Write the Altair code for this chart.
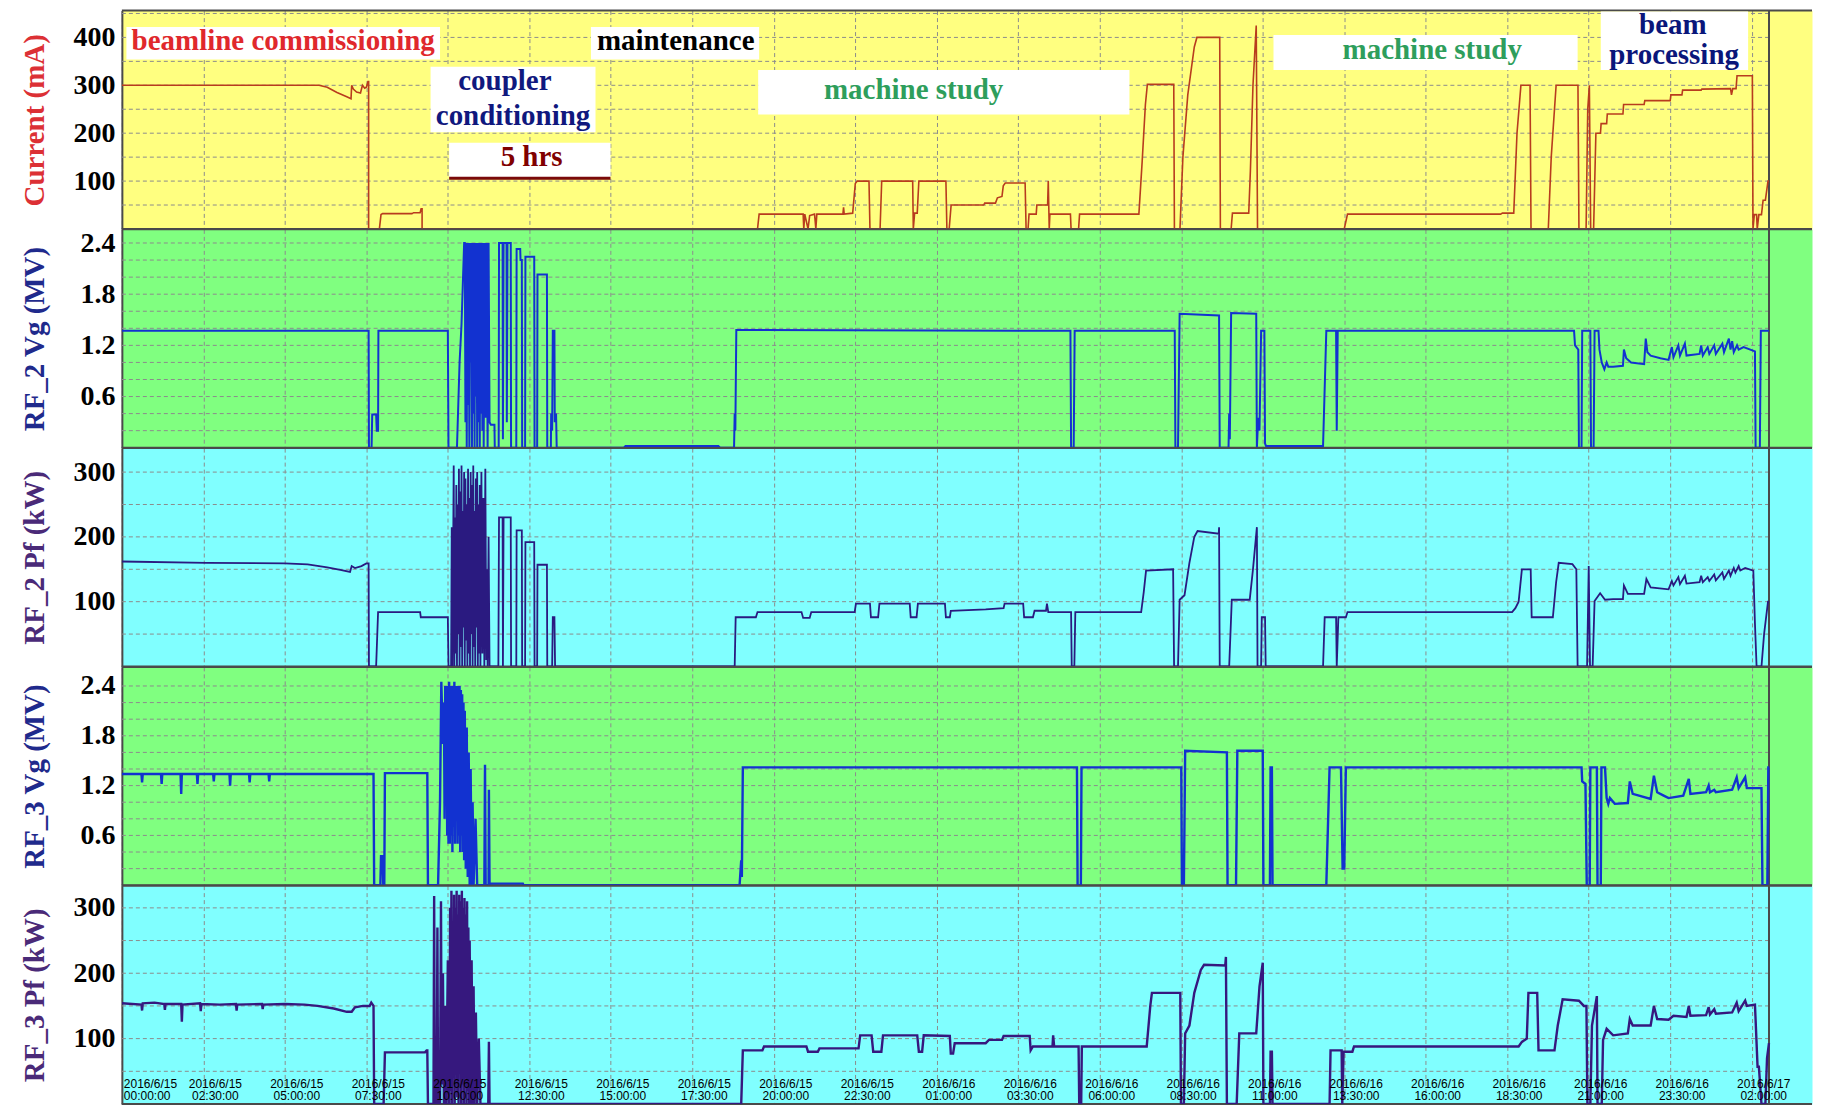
import altair as alt
import pandas as pd

# ---------------- layout constants ----------------
W = 1692          # panel width (px)
H = 218.6         # panel height (px)
X_END = 50.53     # right border of the recorded window (hours after 2016/6/15 00:00)
X_MAX = 51.85     # coloured background continues a bit beyond the border

# ---------------- time axis ----------------
tick_hours = [0, 2.5, 5, 7.5, 10, 12.5, 15, 17.5, 20, 22.5, 25, 27.5, 30, 32.5, 35,
              37.5, 40, 42.5, 45, 47.5, 50]
tick_dates = ["2016/6/15"] * 10 + ["2016/6/16"] * 10 + ["2016/6/17"]
tick_times = ["00:00:00", "02:30:00", "05:00:00", "07:30:00", "10:00:00", "12:30:00",
              "15:00:00", "17:30:00", "20:00:00", "22:30:00", "01:00:00", "03:30:00",
              "06:00:00", "08:30:00", "11:00:00", "13:30:00", "16:00:00", "18:30:00",
              "21:00:00", "23:30:00", "02:00:00"]

# ---------------- y grids / labels ----------------
cur_grid = [50, 100, 150, 200, 250, 300, 350, 400, 450]
cur_labels = [100, 200, 300, 400]
vg_grid = [0.2, 0.4, 0.6, 0.8, 1.0, 1.2, 1.4, 1.6, 1.8, 2.0, 2.2, 2.4]
vg_labels = [0.6, 1.2, 1.8, 2.4]
pf_grid = [50, 100, 150, 200, 250, 300]
pf_labels = [100, 200, 300]

# ---------------- series (hours, value) ----------------
current_mA = [
    (0, 300), (6.05, 300), (6.3, 296), (6.6, 285), (6.9, 276), (7.03, 272), (7.05, 300),
    (7.1, 292), (7.2, 286), (7.32, 284), (7.38, 300), (7.45, 294), (7.5, 296), (7.55, 308),
    (7.57, 308), (7.57, 0), (7.9, 0), (7.95, 30), (8.0, 32), (8.9, 32), (8.95, 34), (9.15, 34),
    (9.18, 42), (9.21, 42), (9.21, 0), (19.5, 0), (19.55, 31), (20.9, 31), (20.92, 0),
    (20.95, 31), (21.05, 0), (21.1, 28), (21.25, 31), (21.29, 0), (21.32, 31), (22.12, 31),
    (22.14, 45), (22.16, 31), (22.42, 33), (22.5, 95), (22.56, 100), (22.92, 100), (22.95, 0),
    (23.26, 0), (23.31, 100), (24.26, 100), (24.28, 0), (24.32, 33), (24.4, 33), (24.45, 100),
    (25.28, 100), (25.31, 0), (25.38, 0), (25.44, 50), (26.44, 50), (26.47, 54), (26.8, 54),
    (26.86, 65), (27.0, 68), (27.04, 90), (27.1, 96), (27.71, 96), (27.74, 0), (27.8, 0),
    (27.83, 31), (28.05, 31), (28.07, 50), (28.4, 50), (28.42, 100), (28.45, 0), (28.47, 31),
    (29.1, 31), (29.12, 0), (29.35, 0), (29.38, 31), (31.2, 31), (31.3, 140), (31.4, 260),
    (31.46, 302), (32.27, 302), (32.29, 0), (32.46, 0), (32.55, 150), (32.7, 280), (32.8, 330),
    (32.9, 380), (32.98, 400), (33.68, 400), (33.7, 0), (34.03, 0), (34.07, 33), (34.57, 33),
    (34.62, 120), (34.7, 300), (34.8, 425), (34.84, 0), (37.5, 0), (37.6, 31), (42.3, 31),
    (42.35, 33), (42.7, 33), (42.8, 200), (42.92, 300), (43.2, 300), (43.23, 0), (43.76, 0),
    (43.85, 150), (44.0, 300), (44.67, 300), (44.7, 0), (44.92, 0), (44.97, 250), (45.02, 300),
    (45.06, 0), (45.15, 0), (45.22, 200), (45.36, 200), (45.38, 220), (45.55, 220), (45.57, 240),
    (46.05, 240), (46.07, 260), (46.7, 260), (46.72, 268), (47.5, 268), (47.52, 280),
    (47.86, 280), (47.88, 290), (48.45, 290), (48.47, 292), (49.35, 293), (49.38, 280),
    (49.42, 293), (49.52, 293), (49.55, 320), (50.02, 320), (50.04, 0), (50.08, 30),
    (50.15, 30), (50.17, 0), (50.22, 30), (50.3, 30), (50.35, 60), (50.42, 60), (50.5, 100),
    (50.53, 100)]

rf2_vg_MV = [
    (0, 1.37), (7.57, 1.37), (7.58, 0), (7.66, 0), (7.68, 0.39), (7.8, 0.39), (7.82, 0.2),
    (7.86, 0.2), (7.87, 1.37), (10.0, 1.37), (10.02, 0), (10.28, 0), (10.36, 1.0), (10.42, 1.45),
    (10.5, 2.4), (10.52, 2.4), (10.54, 0.3), (10.56, 2.4), (10.58, 0.0), (10.6, 2.4), (10.62, 0.5),
    (10.64, 2.4), (10.66, 0.0), (10.68, 2.4), (10.7, 1.0), (10.72, 2.4), (10.74, 0.0), (10.76, 2.4),
    (10.78, 0.4), (10.8, 2.4), (10.82, 0.0), (10.84, 2.4), (10.86, 0.6), (10.88, 2.4), (10.9, 0.0),
    (10.92, 2.4), (10.94, 0.3), (10.96, 2.4), (10.98, 0.0), (11.0, 2.4), (11.02, 0.4), (11.04, 2.4),
    (11.06, 0.2), (11.08, 2.4), (11.1, 0.0), (11.13, 2.4), (11.16, 0.35), (11.19, 2.4), (11.22, 0.0),
    (11.25, 2.4), (11.28, 0.3), (11.32, 0.27), (11.43, 0.27), (11.44, 0), (11.56, 0), (11.57, 2.4),
    (11.68, 2.4), (11.69, 0.1), (11.71, 2.4), (11.8, 2.4), (11.81, 0.3), (11.83, 2.4), (11.93, 2.4),
    (11.94, 0), (12.1, 0), (12.11, 2.33), (12.22, 2.33), (12.23, 2.2), (12.27, 2.2), (12.28, 0),
    (12.37, 0), (12.38, 2.24), (12.65, 2.24), (12.66, 0), (12.74, 0), (12.75, 2.03), (13.04, 2.03),
    (13.05, 0), (13.16, 0), (13.17, 0.4), (13.2, 0.2), (13.22, 1.37), (13.27, 1.37), (13.28, 0.3),
    (13.32, 0.4), (13.34, 0), (15.4, 0), (15.45, 0.02), (18.3, 0.02), (18.35, 0), (18.78, 0),
    (18.8, 0.4), (18.82, 0.2), (18.85, 1.38), (29.1, 1.37), (29.12, 0), (29.2, 0), (29.23, 1.37),
    (32.3, 1.37), (32.32, 0), (32.4, 0), (32.45, 1.57), (33.66, 1.55), (33.68, 0), (33.95, 0),
    (33.97, 0.4), (33.99, 0.1), (34.03, 1.58), (34.8, 1.57), (34.82, 0), (34.86, 0.35), (34.9, 0.2),
    (34.95, 1.37), (35.05, 1.37), (35.07, 0.05), (35.1, 0.02), (36.85, 0.02), (36.95, 1.37),
    (37.25, 1.37), (37.27, 0.2), (37.3, 1.37), (44.55, 1.37), (44.58, 1.2), (44.68, 1.15),
    (44.7, 0), (44.78, 0), (44.8, 1.37), (45.05, 1.37), (45.07, 0), (45.15, 0), (45.18, 1.37),
    (45.3, 1.37), (45.33, 1.15), (45.4, 1.0), (45.48, 0.92), (45.55, 1.0), (45.6, 0.95),
    (45.75, 0.95), (46.05, 0.96), (46.08, 1.15), (46.15, 1.05), (46.3, 1.0), (46.7, 0.98),
    (46.75, 1.28), (46.8, 1.12), (46.9, 1.08), (47.2, 1.05), (47.45, 1.03), (47.55, 1.18),
    (47.6, 1.06), (47.75, 1.2), (47.8, 1.08), (47.95, 1.22), (48.0, 1.08), (48.4, 1.1),
    (48.45, 1.2), (48.5, 1.08), (48.65, 1.18), (48.7, 1.1), (48.85, 1.2), (48.9, 1.1),
    (49.1, 1.22), (49.15, 1.12), (49.3, 1.28), (49.35, 1.15), (49.4, 1.25), (49.45, 1.12),
    (49.55, 1.2), (49.6, 1.15), (49.75, 1.18), (50.1, 1.13), (50.12, 0), (50.25, 0),
    (50.28, 1.37), (50.53, 1.37)]

rf2_pf_kW = [
    (0, 162), (2.6, 160), (5.0, 159), (5.7, 157.5), (6.3, 153), (6.7, 149), (7.0, 146),
    (7.05, 155), (7.15, 152), (7.35, 155), (7.5, 159), (7.57, 159), (7.58, 0), (7.8, 0),
    (7.86, 84), (9.15, 84), (9.17, 76), (10.0, 76), (10.02, 0), (10.1, 0), (10.12, 215),
    (10.14, 0), (10.18, 310), (10.2, 0), (10.22, 230), (10.24, 20), (10.26, 280), (10.28, 0),
    (10.3, 250), (10.32, 50), (10.34, 305), (10.36, 0), (10.38, 270), (10.4, 30), (10.42, 310),
    (10.44, 0), (10.46, 240), (10.48, 60), (10.5, 300), (10.52, 0), (10.54, 290), (10.56, 40),
    (10.58, 250), (10.6, 0), (10.62, 305), (10.64, 20), (10.66, 260), (10.68, 0), (10.7, 300),
    (10.72, 50), (10.74, 280), (10.76, 0), (10.78, 310), (10.8, 30), (10.82, 240), (10.84, 0),
    (10.86, 290), (10.88, 60), (10.9, 300), (10.92, 0), (10.94, 250), (10.96, 20), (10.98, 280),
    (11.0, 0), (11.03, 300), (11.06, 20), (11.09, 260), (11.12, 0), (11.15, 305), (11.18, 10),
    (11.2, 150), (11.22, 0), (11.25, 200), (11.28, 0), (11.55, 0), (11.57, 230), (11.68, 230),
    (11.69, 0), (11.71, 230), (11.93, 230), (11.94, 0), (12.1, 0), (12.11, 210), (12.27, 210),
    (12.28, 0), (12.37, 0), (12.38, 192), (12.65, 192), (12.66, 0), (12.74, 0), (12.75, 157),
    (13.04, 157), (13.05, 0), (13.2, 0), (13.22, 76), (13.27, 76), (13.29, 0), (18.8, 0),
    (18.83, 76), (19.45, 76), (19.5, 84), (20.85, 84), (20.9, 75), (21.1, 75), (21.15, 84),
    (22.48, 84), (22.52, 97), (22.95, 97), (22.98, 76), (23.2, 76), (23.24, 97), (24.17, 97),
    (24.2, 76), (24.38, 76), (24.42, 97), (25.25, 97), (25.28, 76), (25.4, 76), (25.43, 86),
    (26.5, 88), (27.05, 90), (27.08, 97), (27.65, 97), (27.68, 76), (27.95, 76), (28.0, 86),
    (28.35, 86), (28.38, 97), (28.42, 84), (29.12, 84), (29.14, 0), (29.22, 0), (29.25, 84),
    (31.27, 84), (31.35, 115), (31.42, 148), (32.25, 150), (32.28, 0), (32.4, 0), (32.45, 103),
    (32.6, 110), (32.75, 160), (32.9, 200), (33.0, 209), (33.65, 205), (33.66, 215), (33.68, 0),
    (33.97, 0), (34.05, 103), (34.6, 103), (34.7, 150), (34.82, 215), (34.84, 0), (34.95, 0),
    (34.97, 76), (35.07, 76), (35.09, 0), (36.85, 0), (36.9, 76), (37.25, 76), (37.27, 0),
    (37.32, 76), (37.55, 76), (37.6, 84), (42.65, 84), (42.75, 90), (42.85, 100), (42.95, 150),
    (43.22, 150), (43.25, 76), (43.9, 76), (44.0, 130), (44.08, 160), (44.5, 158), (44.62, 150),
    (44.66, 0), (44.95, 0), (45.0, 155), (45.04, 0), (45.12, 0), (45.18, 101), (45.35, 113),
    (45.5, 103), (45.75, 104), (46.05, 104), (46.08, 125), (46.2, 112), (46.7, 112),
    (46.77, 135), (46.9, 122), (47.45, 119), (47.55, 132), (47.6, 125), (47.75, 138),
    (47.8, 127), (47.95, 140), (48.0, 128), (48.4, 130), (48.45, 140), (48.5, 130),
    (48.65, 138), (48.7, 132), (48.85, 142), (48.9, 133), (49.1, 145), (49.15, 135),
    (49.3, 148), (49.35, 140), (49.45, 152), (49.5, 145), (49.6, 155), (49.65, 148),
    (49.8, 152), (50.05, 148), (50.1, 66), (50.15, 0), (50.3, 0), (50.38, 50), (50.5, 100),
    (50.53, 100)]

rf3_vg_MV = [
    (0, 1.34), (0.6, 1.34), (0.62, 1.24), (0.64, 1.34), (1.2, 1.34), (1.22, 1.22), (1.24, 1.34),
    (1.8, 1.34), (1.82, 1.1), (1.84, 1.34), (2.3, 1.34), (2.32, 1.22), (2.34, 1.34), (2.8, 1.34),
    (2.82, 1.25), (2.84, 1.34), (3.3, 1.34), (3.32, 1.2), (3.34, 1.34), (3.9, 1.34), (3.92, 1.24),
    (3.94, 1.34), (4.5, 1.34), (4.52, 1.25), (4.54, 1.34), (7.72, 1.34), (7.74, 0), (7.93, 0),
    (7.95, 0.35), (8.0, 0.35), (8.02, 0), (8.05, 0), (8.07, 1.35), (9.37, 1.35), (9.39, 0),
    (9.7, 0), (9.76, 1.0), (9.8, 2.45), (9.85, 1.7), (9.88, 2.2), (9.9, 0.8), (9.92, 2.4),
    (9.94, 1.0), (9.96, 2.4), (9.98, 0.6), (10.0, 2.4), (10.02, 0.5), (10.04, 2.45), (10.06, 0.5),
    (10.08, 2.4), (10.1, 0.6), (10.12, 2.4), (10.14, 0.4), (10.16, 2.4), (10.18, 0.7),
    (10.2, 2.45), (10.22, 0.5), (10.24, 2.4), (10.26, 0.8), (10.28, 2.4), (10.3, 0.5),
    (10.32, 2.4), (10.34, 0.6), (10.36, 2.4), (10.38, 0.4), (10.4, 2.35), (10.42, 0.6),
    (10.44, 2.3), (10.46, 0.4), (10.48, 2.2), (10.5, 0.3), (10.52, 2.1), (10.55, 0.2),
    (10.58, 1.9), (10.61, 0.1), (10.64, 1.6), (10.67, 0), (10.7, 1.4), (10.73, 0), (10.76, 1.0),
    (10.79, 0), (10.85, 0.8), (10.9, 0), (11.12, 0), (11.14, 1.45), (11.16, 0), (11.25, 0),
    (11.26, 1.15), (11.28, 0), (11.3, 0.02), (12.3, 0.02), (12.32, 0), (18.95, 0), (19.0, 0.3),
    (19.02, 0.1), (19.05, 1.42), (29.3, 1.42), (29.32, 0), (29.42, 0), (29.44, 1.42),
    (32.5, 1.42), (32.52, 0), (32.58, 0), (32.62, 1.62), (33.9, 1.6), (33.92, 0), (34.18, 0),
    (34.22, 1.62), (35.0, 1.62), (35.02, 0), (35.22, 0), (35.24, 1.42), (35.28, 1.42), (35.3, 0),
    (36.95, 0), (37.05, 1.42), (37.4, 1.42), (37.45, 0.2), (37.5, 0.2), (37.55, 1.42),
    (44.78, 1.42), (44.8, 1.25), (44.9, 1.22), (44.94, 0), (45.03, 0), (45.05, 1.42),
    (45.25, 1.42), (45.27, 0), (45.37, 0), (45.39, 1.42), (45.5, 1.42), (45.55, 1.05),
    (45.6, 0.98), (45.65, 1.05), (45.8, 0.98), (46.2, 0.99), (46.26, 1.25), (46.35, 1.1),
    (46.9, 1.04), (47.0, 1.32), (47.1, 1.12), (47.3, 1.08), (47.45, 1.05), (47.9, 1.08),
    (48.07, 1.28), (48.12, 1.1), (48.6, 1.12), (48.68, 1.2), (48.72, 1.12), (48.85, 1.15),
    (48.9, 1.12), (49.4, 1.15), (49.54, 1.3), (49.6, 1.17), (49.8, 1.3), (49.85, 1.17),
    (50.3, 1.17), (50.33, 0), (50.48, 0), (50.51, 1.42), (50.53, 1.42)]

rf3_pf_kW = [
    (0, 154), (0.6, 152), (0.62, 143), (0.64, 154), (1.0, 155), (1.3, 153), (1.32, 144),
    (1.34, 153), (1.82, 153), (1.84, 126), (1.86, 152), (2.4, 154), (2.42, 142), (2.44, 153),
    (3.0, 152), (3.5, 153), (3.52, 143), (3.54, 152), (4.3, 153), (4.32, 145), (4.34, 152),
    (5.0, 153), (5.6, 152), (6.0, 150), (6.5, 146), (6.9, 141), (7.05, 141), (7.15, 148),
    (7.4, 150), (7.6, 150), (7.65, 155), (7.72, 150), (7.74, 0), (8.03, 0), (8.07, 79),
    (9.3, 79), (9.35, 82), (9.37, 82), (9.39, 0), (9.56, 0), (9.58, 318), (9.6, 0), (9.66, 0),
    (9.68, 270), (9.7, 0), (9.76, 0), (9.79, 310), (9.81, 30), (9.85, 200), (9.88, 0),
    (9.92, 150), (9.95, 0), (10.0, 220), (10.03, 0), (10.05, 0), (10.07, 300), (10.09, 20),
    (10.11, 326), (10.13, 0), (10.15, 280), (10.17, 40), (10.19, 320), (10.21, 0), (10.23, 300),
    (10.25, 60), (10.27, 326), (10.29, 10), (10.31, 290), (10.33, 0), (10.35, 320), (10.37, 50),
    (10.39, 310), (10.41, 0), (10.43, 326), (10.45, 30), (10.47, 300), (10.49, 0), (10.51, 315),
    (10.53, 40), (10.55, 290), (10.57, 0), (10.59, 310), (10.61, 20), (10.63, 270), (10.65, 0),
    (10.67, 250), (10.7, 0), (10.73, 220), (10.76, 0), (10.79, 180), (10.82, 0), (10.86, 140),
    (10.9, 0), (10.95, 100), (11.0, 0), (11.24, 0), (11.26, 95), (11.28, 0), (19.0, 0),
    (19.05, 82), (19.65, 82), (19.7, 88), (21.0, 88), (21.05, 80), (21.35, 80), (21.4, 85),
    (22.6, 85), (22.65, 105), (23.0, 105), (23.05, 80), (23.3, 80), (23.35, 105), (24.4, 105),
    (24.45, 80), (24.55, 80), (24.6, 105), (25.4, 104), (25.43, 77), (25.5, 77), (25.55, 93),
    (26.5, 93), (26.6, 98), (27.0, 98), (27.05, 104), (27.85, 104), (27.88, 82), (27.95, 88),
    (28.55, 88), (28.57, 105), (28.6, 88), (29.35, 88), (29.37, 0), (29.43, 0), (29.45, 88),
    (31.44, 88), (31.55, 150), (31.6, 170), (32.47, 170), (32.49, 0), (32.58, 0), (32.62, 108),
    (32.75, 120), (32.9, 170), (33.1, 205), (33.2, 213), (33.85, 212), (33.87, 225), (33.9, 0),
    (34.2, 0), (34.28, 108), (34.8, 108), (34.9, 180), (35.0, 216), (35.02, 0), (35.22, 0),
    (35.24, 80), (35.28, 80), (35.3, 0), (37.05, 0), (37.08, 82), (37.42, 82), (37.44, 0),
    (37.48, 80), (37.75, 80), (37.8, 88), (42.85, 88), (42.95, 95), (43.1, 100), (43.15, 170),
    (43.42, 170), (43.46, 82), (43.95, 82), (44.05, 120), (44.2, 160), (44.7, 158),
    (44.85, 150), (44.93, 150), (44.96, 0), (45.05, 0), (45.1, 120), (45.25, 165), (45.27, 0),
    (45.4, 0), (45.44, 98), (45.55, 115), (45.75, 105), (46.2, 108), (46.26, 130), (46.35, 120),
    (46.9, 120), (47.0, 150), (47.1, 130), (47.45, 129), (47.6, 135), (48.0, 133), (48.07, 150),
    (48.12, 135), (48.6, 136), (48.68, 148), (48.72, 137), (48.85, 145), (48.9, 138),
    (49.4, 140), (49.54, 155), (49.6, 142), (49.8, 158), (49.85, 150), (50.1, 152),
    (50.18, 57), (50.22, 57), (50.3, 0), (50.42, 0), (50.47, 70), (50.53, 93)]

# ---------------- annotations of the top panel (hours, mA) ----------------
box_x1 = [0.14, 9.47, 10.04, 14.39, 19.52, 35.33, 45.37]
box_x2 = [9.76, 14.53, 14.99, 19.55, 30.91, 44.66, 49.89]
box_y1 = [354, 202, 107, 354, 239, 332, 332]
box_y2 = [422, 339, 180, 422, 332, 405, 454]

note_text = ["beamline commissioning", "coupler", "conditioning", "5 hrs", "maintenance",
             "machine study", "machine study", "beam", "processing"]
note_x = [4.95, 11.75, 12.0, 12.57, 16.99, 24.29, 40.2, 47.58, 47.62]
note_y = [392, 309, 236, 150, 392, 290, 374, 426, 364]
note_color = ["#e0282c", "#10187e", "#10187e", "#800000", "#000000", "#2e9e5c", "#2e9e5c",
              "#0a167a", "#0a167a"]

span_x1 = [10.04]
span_x2 = [14.99]
span_y = [106]

# ---------------- style ----------------
GRID = "#8c8c8c"
BORDER = "#4a4a4a"
SERIF = "Liberation Serif"
NARROW = "Liberation Sans Narrow, Arial Narrow, Liberation Sans"

xs = alt.Scale(domain=[0, X_MAX], nice=False, zero=False)

X_AXIS = alt.Axis(values=tick_hours, grid=True, labels=False, ticks=False, domain=False,
                  title=None, gridColor=GRID, gridDash=[4, 3], gridWidth=1)


def make_y_axis(label_vals, fmt, title, title_color):
    return alt.Axis(values=label_vals, format=fmt, labelOverlap=False, grid=False,
                    ticks=False, domain=True, domainColor=BORDER, domainWidth=2,
                    labelFont=SERIF, labelFontSize=28, labelFontWeight="bold",
                    labelColor="#000000", labelPadding=7, minExtent=52, maxExtent=52,
                    title=title, titleFont=SERIF, titleFontSize=29, titleFontWeight="bold",
                    titleColor=title_color, titlePadding=20)


def panel(points, color, sw, ydomain, grid_vals, y_axis, bg, extras=()):
    ys = alt.Scale(domain=ydomain, nice=False, zero=False)
    d = pd.DataFrame(points, columns=["t", "v"])
    d["i"] = range(len(d))
    gdf = pd.DataFrame({"g": grid_vals})
    # horizontal dashed grid, stopping at the right border of the record
    grid = alt.Chart(gdf).mark_rule(color=GRID, strokeWidth=1, strokeDash=[4, 3]).encode(
        x=alt.X(datum=0, scale=xs, axis=X_AXIS), x2=alt.X2(datum=X_END),
        y=alt.Y("g:Q", scale=ys, axis=y_axis))
    border_df = pd.DataFrame({"xe": [X_END]})
    top = alt.Chart(border_df).mark_rule(color=BORDER, strokeWidth=2).encode(
        x=alt.value(0), x2=alt.value(W), y=alt.value(0))
    bottom = alt.Chart(border_df).mark_rule(color=BORDER, strokeWidth=2).encode(
        x=alt.value(0), x2=alt.value(W), y=alt.value(H))
    right = alt.Chart(border_df).mark_rule(color=BORDER, strokeWidth=2).encode(
        x=alt.X("xe:Q", scale=xs, axis=X_AXIS), y=alt.value(0), y2=alt.value(H))
    line = alt.Chart(d).mark_line(color=color, strokeWidth=sw, clip=True,
                                  interpolate="linear").encode(
        x=alt.X("t:Q", scale=xs, axis=X_AXIS), y=alt.Y("v:Q", scale=ys, axis=y_axis),
        order="i:Q")
    layers = [grid, top, bottom, right, line]
    for e in extras:
        layers += e(ys, y_axis)
    return alt.layer(*layers).properties(
        width=W, height=H, view=alt.ViewBackground(fill=bg, stroke="transparent"))


def notes_layers(ys, y_axis):
    boxes = pd.DataFrame({"x1": box_x1, "x2": box_x2, "y1": box_y1, "y2": box_y2})
    notes = pd.DataFrame({"txt": note_text, "x": note_x, "y": note_y, "c": note_color})
    spans = pd.DataFrame({"x1": span_x1, "x2": span_x2, "y": span_y})
    r = alt.Chart(boxes).mark_rect(color="#ffffff").encode(
        x=alt.X("x1:Q", scale=xs, axis=X_AXIS), x2="x2:Q",
        y=alt.Y("y1:Q", scale=ys, axis=y_axis), y2="y2:Q")
    s = alt.Chart(spans).mark_rule(color="#7a0a0a", strokeWidth=3).encode(
        x=alt.X("x1:Q", scale=xs, axis=X_AXIS), x2="x2:Q",
        y=alt.Y("y:Q", scale=ys, axis=y_axis))
    t = alt.Chart(notes).mark_text(font=SERIF, fontSize=29, fontWeight="bold",
                                   baseline="middle", align="center").encode(
        x=alt.X("x:Q", scale=xs, axis=X_AXIS), y=alt.Y("y:Q", scale=ys, axis=y_axis),
        text="txt:N", color=alt.Color("c:N", scale=None))
    return [r, s, t]


def time_label_layers(ys, y_axis):
    tl = pd.DataFrame({"t": tick_hours, "d": tick_dates, "tm": tick_times,
                       "k": range(len(tick_hours))})
    base = alt.Chart(tl).transform_calculate(lab="[datum.d, datum.tm]")
    common = dict(font=NARROW, fontSize=12, lineHeight=12, baseline="bottom",
                  color="#000000")
    first = base.transform_filter("datum.k == 0").mark_text(
        align="left", dx=2, **common).encode(
        x=alt.X("t:Q", scale=xs, axis=X_AXIS), y=alt.value(H - 13), text="lab:N")
    rest = base.transform_filter("datum.k > 0").mark_text(
        align="center", dx=12, **common).encode(
        x=alt.X("t:Q", scale=xs, axis=X_AXIS), y=alt.value(H - 13), text="lab:N")
    return [first, rest]


p1 = panel(current_mA, "#b83c1e", 1.6, [0, 456], cur_grid,
           make_y_axis(cur_labels, "d", "Current (mA)", "#dc3035"),
           "#ffff80", extras=(notes_layers,))
p2 = panel(rf2_vg_MV, "#1232d0", 2.0, [0, 2.56], vg_grid,
           make_y_axis(vg_labels, ".1f", "RF_2 Vg (MV)", "#1f2a8c"), "#80ff80")
p3 = panel(rf2_pf_kW, "#2a1a80", 1.8, [0, 337], pf_grid,
           make_y_axis(pf_labels, "d", "RF_2 Pf (kW)", "#4a2a78"), "#80ffff")
p4 = panel(rf3_vg_MV, "#1232d0", 2.4, [0, 2.63], vg_grid,
           make_y_axis(vg_labels, ".1f", "RF_3 Vg (MV)", "#1f2a8c"), "#80ff80")
p5 = panel(rf3_pf_kW, "#36187e", 2.4, [0, 334], pf_grid,
           make_y_axis(pf_labels, "d", "RF_3 Pf (kW)", "#4a2a78"), "#80ffff",
           extras=(time_label_layers,))

chart = alt.vconcat(p1, p2, p3, p4, p5, spacing=0, bounds="flush").properties(
    padding={"left": 12, "top": 0, "right": 0, "bottom": 0})

chart.save("out.html", embed_options={"renderer": "svg", "actions": False})
